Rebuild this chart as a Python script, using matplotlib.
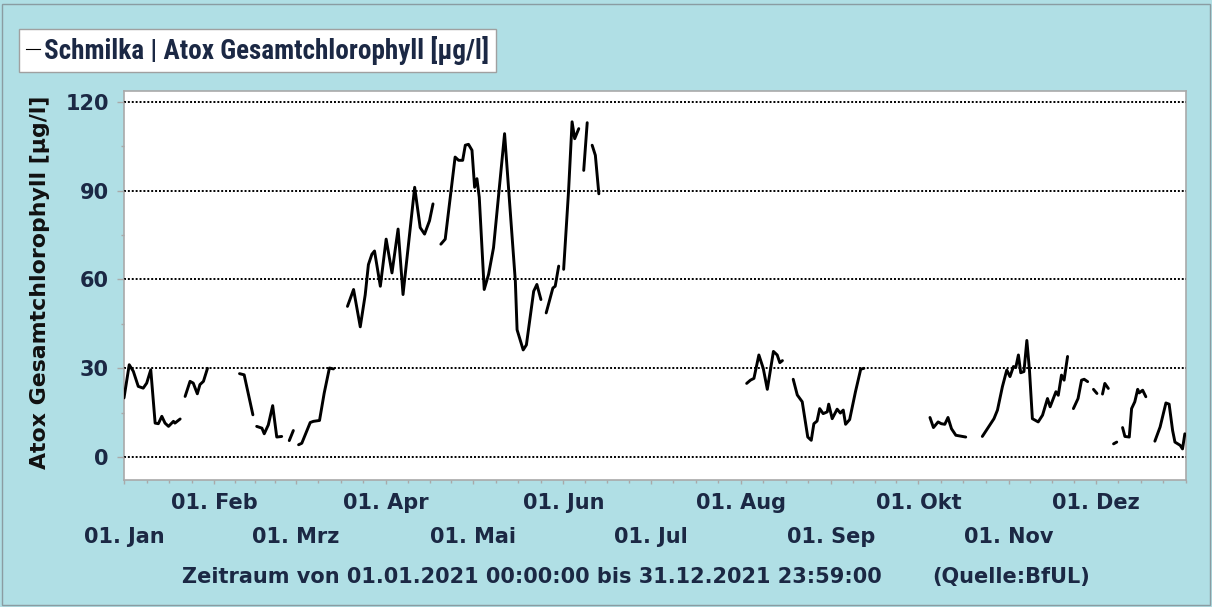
import numpy as np
import matplotlib
matplotlib.use("Agg")
import matplotlib.pyplot as plt
import matplotlib.dates as mdates
from matplotlib.lines import Line2D
from matplotlib.patches import Rectangle
from matplotlib.font_manager import FontProperties
from matplotlib import font_manager as fm
from datetime import datetime

nan = np.nan

# ---- data: day offset from 01.01.2021 and chlorophyll value (nan = gap) ----
days = [0, 1.8, 3.2, 4.9, 6.6, 7.8, 9.2, 10.7, 11.8, 13.0, 14.1, 15.3, 17.0, 17.5, 19.3, nan,
        21.0, 22.7, 23.8, 25.2, 26.1, 27.3, 28.7, nan,
        39.7, 41.3, 44.3, nan,
        45.6, 47.4, 48.2, 49.6, 51.1, 52.5, 54.2, nan,
        56.8, 58.2, nan,
        60.0, 61.1, 64.0, 65.1, 67.2, 68.8, 70.6, 72.0, nan,
        76.8, 78.9, 81.2, 82.9, 84.0, 85.2, 86.1, 88.1, 90.1, 92.1, 94.2, 95.9, 99.9, 101.8,
        103.3, 105.0, 106.2, nan,
        108.9, 110.4, 113.8, 115.0, 116.4, 117.3, 118.4, 119.6, 120.5, 121.3, 122.1, 123.8,
        125.3, 127.0, 130.8, 134.5, 135.1, 137.2, 138.3, 140.8, 141.9, 143.3, nan,
        145.1, 146.5, 147.4, 148.2, 149.4, nan,
        151.1, 152.8, 154.0, 154.9, 156.3, nan,
        158.0, 159.2, nan,
        160.9, 162.0, 163.2, nan,
        214.0, 215.3, 216.5, 218.2, 219.7, 221.1, 223.2, 224.5, 225.4, 226.3, nan,
        230.0, 231.4, 233.1, 235.0, 236.2, 237.1, 238.2, 239.1, 240.3, 241.7, 242.2, 243.4,
        245.1, 246.2, 247.2, 248.0, 249.4, 251.4, 253.2, 254.3, nan,
        277.0, 278.2, 279.8, 280.9, 282.1, 283.2, 284.4, 285.9, 289.3, nan,
        295.0, 299.0, 300.2, 301.9, 303.4, 304.5, 305.7, 306.5, 307.4, 308.2, 309.3, 310.3,
        311.2, 312.2, 314.2, 315.7, 317.4, 318.3, 320.3, 321.1, 322.2, 323.1, 324.3, nan,
        326.3, 327.9, 329.1, 330.0, 331.2, nan,
        333.2, 334.4, nan,
        336.3, 337.1, 338.3, nan,
        340.1, 341.2, nan,
        343.2, 344.0, 345.5, 346.3, 347.4, 348.4, 348.9, 350.1, 351.2, nan,
        354.3, 356.1, 358.1, 359.2, 360.4, 361.2, 363.0, 363.8, 364.6]

chl = [20.0, 31.2, 29.0, 23.9, 23.3, 25.0, 29.5, 11.5, 11.3, 13.8, 11.5, 10.4, 12.1, 11.5, 12.9, nan,
       20.5, 25.6, 25.0, 21.4, 24.5, 25.6, 30.0, nan,
       28.2, 27.8, 14.3, nan,
       10.4, 9.8, 7.9, 10.9, 17.4, 6.8, 7.0, nan,
       5.6, 9.0, nan,
       4.2, 4.7, 11.7, 12.1, 12.4, 21.6, 30.1, 29.8, nan,
       50.9, 56.6, 44.0, 54.8, 65.0, 68.5, 69.6, 57.7, 73.6, 62.2, 77.0, 54.9, 91.1, 77.5,
       75.3, 79.8, 85.5, nan,
       71.9, 73.6, 101.3, 100.2, 100.2, 105.3, 105.6, 103.6, 91.1, 94.0, 87.7, 56.6,
       61.7, 70.7, 109.2, 59.4, 43.0, 36.2, 37.9, 56.0, 58.3, 53.2, nan,
       48.7, 53.8, 57.1, 57.7, 64.5, nan,
       63.4, 90.0, 113.2, 107.5, 110.9, nan,
       96.8, 112.9, nan,
       105.3, 101.9, 88.9, nan,
       24.9, 26.0, 26.6, 34.5, 30.0, 22.9, 35.7, 34.5, 31.9, 32.6, nan,
       26.3, 21.0, 18.7, 6.8, 5.7, 11.3, 12.2, 16.4, 14.7, 15.3, 17.9, 13.0,
       16.2, 14.9, 15.9, 11.1, 12.7, 22.1, 29.7, 30.0, nan,
       13.4, 10.0, 11.9, 11.3, 11.1, 13.4, 9.6, 7.4, 6.8, nan,
       7.0, 13.0, 15.9, 23.8, 29.4, 27.2, 30.6, 30.3, 34.5, 28.5, 28.9, 39.4,
       29.4, 13.0, 11.9, 14.2, 19.8, 17.0, 22.1, 20.9, 27.7, 26.0, 34.0, nan,
       16.4, 19.8, 26.0, 26.3, 25.5, nan,
       22.9, 21.5, nan,
       21.3, 24.9, 23.2, nan,
       4.5, 5.1, nan,
       10.0, 7.0, 6.8, 16.4, 18.7, 22.9, 21.7, 22.6, 20.4, nan,
       5.4, 10.2, 18.3, 17.9, 9.0, 5.1, 4.0, 2.8, 7.9]

month_labels = ["01. Jan", "01. Feb", "01. Mrz", "01. Apr", "01. Mai", "01. Jun",
                "01. Jul", "01. Aug", "01. Sep", "01. Okt", "01. Nov", "01. Dez"]
y_ticks = [0, 30, 60, 90, 120]
legend_label = "Schmilka | Atox Gesamtchlorophyll [µg/l]"
y_label = "Atox Gesamtchlorophyll [µg/l]"
footer_left = "Zeitraum von 01.01.2021 00:00:00 bis 31.12.2021 23:59:00"
footer_right = "(Quelle:BfUL)"

assert len(days) == len(chl)

BG = "#b0dfe5"
NAVY = "#1b2844"
GREY = "#a9a9a9"
W, H = 1212, 607


def first_available(names):
    for n in names:
        try:
            fm.findfont(FontProperties(family=n, weight="bold"), fallback_to_default=False)
            return n
        except Exception:
            pass
    return "DejaVu Sans"


fig = plt.figure(figsize=(W / 100, H / 100), dpi=100, facecolor=BG)
ax = fig.add_axes([124 / W, 1 - 480 / H, (1186 - 124) / W, (480 - 90.7) / H])
ax.set_facecolor("white")

start = mdates.date2num(datetime(2021, 1, 1))
end = mdates.date2num(datetime(2022, 1, 1))
x = start + np.array(days, dtype=float)
ax.plot(x, np.array(chl, dtype=float), color="black", lw=2.1,
        solid_joinstyle="round", solid_capstyle="round", zorder=3)

ax.set_xlim(start, end)
ax.set_ylim(-7.7, 123.7)

# y axis
ax.set_yticks(y_ticks)
ax.set_yticks([15, 45, 75, 105], minor=True)
ax.set_yticklabels([str(v) for v in y_ticks])
ax.yaxis.grid(True, which="major", color="black", linestyle=(0, (1, 1)), lw=1.4)
ax.set_axisbelow(False)

# x axis: month starts + quarter-month minor ticks
month_starts = [mdates.date2num(datetime(2021, m, 1)) for m in range(1, 13)]
bounds = month_starts + [end]
minor = []
for a, b in zip(bounds[:-1], bounds[1:]):
    for k in (1, 2, 3):
        minor.append(a + (b - a) * k / 4)
ax.set_xticks(month_starts)
ax.set_xticks(minor + [end], minor=True)
ax.set_xticklabels(month_labels)

for t in ax.get_xticklabels() + ax.get_yticklabels():
    t.set_fontweight("bold")
    t.set_fontsize(15)
    t.set_color(NAVY)
    t.set_family("DejaVu Sans")

ax.tick_params(axis="y", which="major", length=5, width=1, color=GREY, pad=6)
ax.tick_params(axis="y", which="minor", length=2.5, width=1, color=GREY)
ax.tick_params(axis="x", which="major", length=3.2, width=1, color=GREY)
ax.tick_params(axis="x", which="minor", length=2.3, width=1, color=GREY)
for i, tk in enumerate(ax.xaxis.get_major_ticks()):
    tk.set_pad(6 if i % 2 == 1 else 30.5)

for s in ax.spines.values():
    s.set_color(GREY)
    s.set_linewidth(1.2)

# y label
fig.text(40 / W, 1 - 282 / H, y_label, rotation=90, ha="center", va="center",
         fontsize=15.8, fontweight="bold", color="#111111", family="DejaVu Sans")

# legend: narrow bold font, sized so the label spans ~445 px like the reference
lfam = first_available(["Roboto Condensed", "Liberation Sans Narrow", "Open Sans Condensed",
                        "Lato", "Roboto", "Liberation Sans"])
renderer = fig.canvas.get_renderer()
probe = fig.text(0, 0, legend_label, family=lfam, fontweight="bold", fontsize=20)
wpx = probe.get_window_extent(renderer).width
probe.remove()
lsize = 20 * 445.0 / wpx
lfont = FontProperties(family=[lfam, "DejaVu Sans"], weight="bold", size=lsize)
leg = ax.legend(handles=[Line2D([], [], color="black", lw=0.8)], labels=[legend_label],
                loc="upper left", bbox_to_anchor=(19 / W, 1 - 29 / H),
                bbox_transform=fig.transFigure, frameon=True, fancybox=False,
                edgecolor="#a0a0a0", facecolor="white", framealpha=1,
                handlelength=14.0 / (lsize * 100 / 72), handletextpad=4.0 / (lsize * 100 / 72),
                borderpad=7.0 / (lsize * 100 / 72),
                borderaxespad=0, prop=lfont)
leg.get_frame().set_linewidth(1.0)
for t in leg.get_texts():
    t.set_color(NAVY)

# footer
fig.text(182 / W, 1 - 577 / H, footer_left, ha="left", va="center",
         fontsize=15, fontweight="bold", color=NAVY, family="DejaVu Sans")
fig.text(932 / W, 1 - 577 / H, footer_right, ha="left", va="center",
         fontsize=15, fontweight="bold", color=NAVY, family="DejaVu Sans")

# figure border
fig.patches.append(Rectangle((1.5 / W, 2 / H), 1208.5 / W, 601 / H, transform=fig.transFigure,
                             fill=False, edgecolor="#8a9ca2", lw=1.0))

fig.savefig("out.png", dpi=100, facecolor=BG)
